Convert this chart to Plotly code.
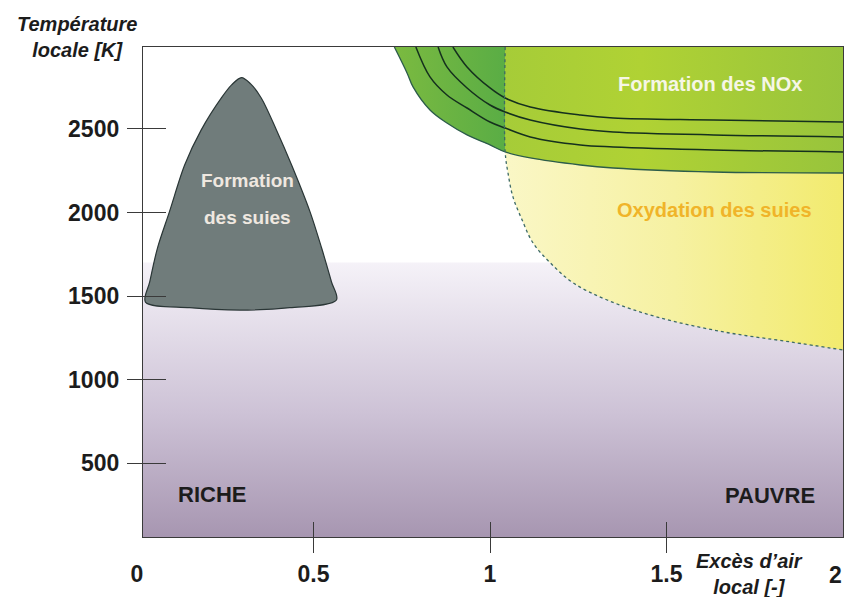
import plotly.graph_objects as go

# ---------------- data ----------------
X_TICKS = [0, 0.5, 1, 1.5, 2]
X_TICK_TEXT = ["0", "0.5", "1", "1.5", "2"]
X_TICK_MARKS = [0.5, 1, 1.5]
Y_TICKS = [500, 1000, 1500, 2000, 2500]
Y_TICK_TEXT = ["500", "1000", "1500", "2000", "2500"]

# soot formation zone: local excess air [-] vs local temperature [K]
SOOT_X = [0.024, 0.036, 0.058, 0.092, 0.135, 0.182, 0.239, 0.268, 0.296, 0.322,
          0.352, 0.395, 0.438, 0.490, 0.523, 0.551, 0.565, 0.433, 0.291, 0.149, 0.024]
SOOT_T = [1464, 1584, 1787, 2005, 2284, 2494, 2685, 2763, 2807, 2769,
          2685, 2494, 2284, 2005, 1787, 1584, 1476, 1430, 1416, 1430, 1464]

# NOx formation zone: lower edge
NOX_EDGE_X = [0.729, 0.765, 0.782, 0.830, 0.878, 0.935, 1.000, 1.043, 1.114, 1.256, 1.349, 1.633, 2.000]
NOX_EDGE_T = [2990, 2835, 2751, 2613, 2535, 2464, 2404, 2362, 2326, 2284, 2266, 2242, 2236]

# NOx iso-lines inside the zone
NOX_ISO1_X = [0.790, 0.830, 0.878, 0.935, 1.000, 1.043, 1.114, 1.256, 1.349, 1.633, 2.000]
NOX_ISO1_T = [2990, 2811, 2703, 2625, 2541, 2505, 2452, 2404, 2392, 2374, 2362]
NOX_ISO2_X = [0.853, 0.878, 0.935, 1.000, 1.043, 1.114, 1.256, 1.349, 1.633, 2.000]
NOX_ISO2_T = [2990, 2871, 2745, 2643, 2601, 2553, 2499, 2482, 2464, 2452]
NOX_ISO3_X = [0.895, 0.935, 1.000, 1.043, 1.114, 1.256, 1.349, 1.633, 2.000]
NOX_ISO3_T = [2990, 2871, 2745, 2685, 2631, 2583, 2565, 2553, 2541]

# soot oxidation zone: left / lower edge
OXY_X = [1.043, 1.043, 1.051, 1.065, 1.091, 1.122, 1.171, 1.236, 1.332, 1.474, 1.662, 1.852, 2.000]
OXY_T = [2990, 2362, 2236, 2093, 1955, 1817, 1698, 1578, 1476, 1374, 1285, 1225, 1177]

# top of the shaded (low temperature) band
BAND_TOP_T = 1700

# ---------------- axes / style ----------------
X_MIN, X_MAX = 0.017, 2.0
T_MIN, T_MAX = 58, 2990
FONT = "Liberation Sans, Arial, sans-serif"
TXT = "#1c1c1c"
FRAME = "#3a3a3a"

fig = go.Figure()
skip = dict(hoverinfo="skip", showlegend=False)

# low-temperature band with vertical gradient
fig.add_trace(go.Scatter(
    x=[X_MIN, X_MAX, X_MAX, X_MIN, X_MIN],
    y=[T_MIN, T_MIN, BAND_TOP_T, BAND_TOP_T, T_MIN],
    mode="lines", line=dict(width=0), fill="toself",
    fillgradient=dict(type="vertical", start=T_MIN, stop=BAND_TOP_T,
                      colorscale=[[0, "#a796b1"], [0.45, "#cdc2d6"], [1, "#f5f2f8"]]),
    **skip))

# soot oxidation zone (yellow)
fig.add_trace(go.Scatter(x=[OXY_X[0], X_MAX], y=[T_MAX, T_MAX], mode="lines",
                         line=dict(width=0), **skip))
fig.add_trace(go.Scatter(
    x=OXY_X, y=OXY_T, mode="lines", line=dict(width=0, shape="spline"),
    fill="tonexty",
    fillgradient=dict(type="horizontal", start=OXY_X[0], stop=X_MAX,
                      colorscale=[[0, "#faf7c6"], [0.5, "#f6f1a2"], [1, "#f2eb6e"]]),
    **skip))

# NOx formation zone (green)
split = (OXY_X[0] - NOX_EDGE_X[0]) / (X_MAX - NOX_EDGE_X[0])
fig.add_trace(go.Scatter(x=[NOX_EDGE_X[0], X_MAX], y=[T_MAX, T_MAX], mode="lines",
                         line=dict(width=0), **skip))
fig.add_trace(go.Scatter(
    x=NOX_EDGE_X, y=NOX_EDGE_T, mode="lines",
    line=dict(width=1.3, color="#2c5c4a", shape="spline"),
    fill="tonexty",
    fillgradient=dict(type="horizontal", start=NOX_EDGE_X[0], stop=X_MAX,
                      colorscale=[[0, "#7bba40"], [split - 0.001, "#5aad45"],
                                  [split, "#a6cc38"], [0.55, "#b0d234"], [1, "#98c43c"]]),
    **skip))

for xs, ts in [(NOX_ISO1_X, NOX_ISO1_T), (NOX_ISO2_X, NOX_ISO2_T), (NOX_ISO3_X, NOX_ISO3_T)]:
    fig.add_trace(go.Scatter(x=xs, y=ts, mode="lines",
                             line=dict(width=1.5, color="#15301e", shape="spline"), **skip))

# dotted outline of the oxidation zone
fig.add_trace(go.Scatter(x=OXY_X, y=OXY_T, mode="lines",
                         line=dict(width=1.3, color="#3d6a66", dash="dot", shape="spline"), **skip))

# soot formation zone (grey)
fig.add_trace(go.Scatter(x=SOOT_X, y=SOOT_T, mode="lines", fill="toself",
                         fillcolor="#707c7b",
                         line=dict(width=1.2, color="#2a3636", shape="spline", smoothing=0.9),
                         **skip))

# helper traces so the extra axes are drawn
fig.add_trace(go.Scatter(x=[None], y=[None], xaxis="x2", yaxis="y2", **skip))
fig.add_trace(go.Scatter(x=[None], y=[None], xaxis="x3", yaxis="y", **skip))

tickfont = dict(family=FONT, size=23, color=TXT, weight="bold")

fig.update_layout(
    width=844, height=597,
    margin=dict(l=137, r=1, t=47, b=60, pad=0),
    paper_bgcolor="white", plot_bgcolor="rgba(0,0,0,0)",
    showlegend=False,
    font=dict(family=FONT, color=TXT),
    xaxis=dict(domain=[6 / 706, 1], range=[X_MIN, X_MAX], anchor="y",
               showgrid=False, zeroline=False,
               showline=True, mirror=True, linecolor=FRAME, linewidth=1.3,
               ticks="outside", ticklen=15, tickwidth=1.3, tickcolor=FRAME,
               tickvals=X_TICK_MARKS, showticklabels=False),
    xaxis2=dict(overlaying="x", range=[X_MIN, X_MAX], anchor="y",
                showgrid=False, zeroline=False, showline=False,
                ticks="inside", ticklen=15, tickwidth=1.3, tickcolor=FRAME,
                tickvals=X_TICK_MARKS, showticklabels=False),
    # full-width label axis (the label at the window edge is drawn as an annotation below)
    xaxis3=dict(domain=[0, 1], range=[0, 2], anchor="y",
                showgrid=False, zeroline=False, showline=False,
                ticks="outside", ticklen=16, tickcolor="rgba(0,0,0,0)",
                tickvals=X_TICKS[:-1], ticktext=X_TICK_TEXT[:-1], tickfont=tickfont),
    yaxis=dict(domain=[0, 1], range=[T_MIN, T_MAX], anchor="x",
               showgrid=False, zeroline=False,
               showline=True, mirror=True, linecolor=FRAME, linewidth=1.3,
               ticks="outside", ticklen=15, tickwidth=1.3, tickcolor=FRAME,
               tickvals=Y_TICKS, ticktext=Y_TICK_TEXT, tickfont=tickfont,
               ticklabelstandoff=3),
    yaxis2=dict(overlaying="y", range=[T_MIN, T_MAX], anchor="x",
                showgrid=False, zeroline=False, showline=False,
                ticks="inside", ticklen=23, tickwidth=1.3, tickcolor=FRAME,
                tickvals=Y_TICKS, showticklabels=False),
)

ann = []
def label(text, x, y, size, color, xanchor="center", weight="bold", style="normal",
          xref="x", yref="y", yshift=0):
    ann.append(dict(text=text, x=x, y=y, xref=xref, yref=yref, xanchor=xanchor,
                    yanchor="middle", showarrow=False, yshift=yshift, borderpad=0,
                    font=dict(family=FONT, size=size, color=color, weight=weight, style=style)))

label("Formation", 0.312, 2194, 19, "#efe8e0")
label("des suies", 0.314, 1967, 19, "#efe8e0")
label("Formation des NOx", 1.623, 2769, 20, "#f6f6e6")
label("Oxydation des suies", 1.635, 2015, 20, "#f0b429")
label("RICHE", 0.112, 310, 22, TXT, xanchor="left")
label("PAUVRE", 1.924, 304, 22, TXT, xanchor="right")
label("Température<br>locale [K]", -0.085, 1.0204, 20, TXT, style="italic",
      xref="paper", yref="paper")
label("Excès d’air<br>local [-]", 0.868, -0.0765, 20, TXT, style="italic",
      xref="paper", yref="paper")
# last x tick label, right-aligned on its tick so it stays inside the window
label(X_TICK_TEXT[-1], X_TICKS[-1], 0, 23, TXT, xanchor="right",
      xref="x3", yref="paper", yshift=-38)
fig.update_layout(annotations=ann)

fig.write_html("out.html", config={"displayModeBar": False},
               post_script="document.body.style.margin='0px';")
